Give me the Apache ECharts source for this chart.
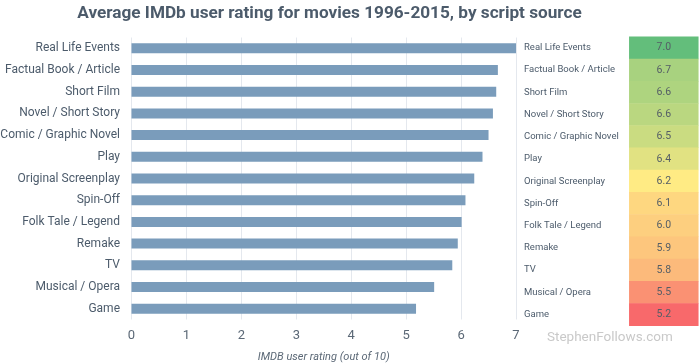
<!DOCTYPE html>
<html><head><meta charset="utf-8">
<script src="https://cdn.jsdelivr.net/npm/echarts@6/dist/echarts.min.js"></script>
<style>html,body{margin:0;padding:0;background:#fff}#c{width:700px;height:363px}</style>
</head><body><div id="c"></div>
<script>
const categories = ["Real Life Events","Factual Book / Article","Short Film","Novel / Short Story","Comic / Graphic Novel","Play","Original Screenplay","Spin-Off","Folk Tale / Legend","Remake","TV","Musical / Opera","Game"];
const ratings = [7.01,6.67,6.64,6.58,6.50,6.39,6.24,6.08,6.01,5.94,5.84,5.51,5.18];
const xTicks = [0,1,2,3,4,5,6,7];

function lerp(a,b,t){return Math.round(a+(b-a)*t);}
function mix(c1,c2,t){return 'rgb('+lerp(c1[0],c2[0],t)+','+lerp(c1[1],c2[1],t)+','+lerp(c1[2],c2[2],t)+')';}
const RED=[248,105,107], YEL=[255,235,132], GRN=[99,190,123];
const sorted = ratings.slice().sort((a,b)=>a-b);
const vmin = sorted[0], vmax = sorted[sorted.length-1], vmid = sorted[Math.floor(sorted.length/2)];
function scaleColor(v){
  if (v<=vmid) return mix(RED,YEL,(v-vmin)/(vmid-vmin));
  return mix(YEL,GRN,(v-vmid)/(vmax-vmid));
}

const chart = echarts.init(document.getElementById('c'), null, {renderer:'canvas'});
chart.setOption({
  animation:false,
  title:{text:'Average IMDb user rating for movies 1996-2015, by script source', left:324.5, textAlign:'center', top:0,
    textStyle:{fontFamily:'Roboto', fontWeight:'bold', fontSize:17.2, color:'#4c5b6b'}},
  grid:[
    {left:131.5, width:384.5, top:37.5, height:282, containLabel:false, outerBoundsMode:'none'},
    {left:629.3, width:69, top:36.7, height:289, containLabel:false, outerBoundsMode:'none'}
  ],
  xAxis:[
    {type:'value', gridIndex:0, min:0, max:7, interval:1,
     axisLine:{show:false}, axisTick:{show:false},
     splitLine:{lineStyle:{color:'#e4e8ee', width:1}},
     axisLabel:{color:'#5b6876', fontSize:13, fontFamily:'Roboto', margin:10},
     name:'IMDB user rating (out of 10)', nameLocation:'middle', nameGap:32,
     nameTextStyle:{fontStyle:'italic', fontSize:11, color:'#5b6876', fontFamily:'Roboto'}},
    {type:'category', gridIndex:1, data:['v'], show:false}
  ],
  yAxis:[
    {type:'category', gridIndex:0, data:categories, inverse:true,
     axisLine:{show:false}, axisTick:{show:false},
     axisLabel:{color:'#4c5b6b', fontSize:12, fontFamily:'Roboto', margin:11.5}},
    {type:'category', gridIndex:1, data:categories, inverse:true,
     axisLine:{show:false}, axisTick:{show:false}, splitLine:{show:false},
     axisLabel:{color:'#4c5b6b', fontSize:9.5, fontFamily:'Roboto', align:'left', margin:105.3}}
  ],
  series:[
    {type:'bar', xAxisIndex:0, yAxisIndex:0, data:ratings, barWidth:10,
     itemStyle:{color:'#7a9cbb'}, silent:true},
    {type:'heatmap', xAxisIndex:1, yAxisIndex:1,
     data:ratings.map((v,i)=>({value:[0,i,v], itemStyle:{color:scaleColor(v)}})),
     label:{show:true, formatter:p=>p.value[2].toFixed(1), color:'#555e66', fontSize:10.5, fontFamily:'Roboto'},
     itemStyle:{borderWidth:0}}
  ],
  graphic:[
    {type:'text', left:547, top:331, style:{text:'StephenFollows.com', fill:'#c9c9c9', font:'13.5px Roboto'}}
  ]
});
</script></body></html>
